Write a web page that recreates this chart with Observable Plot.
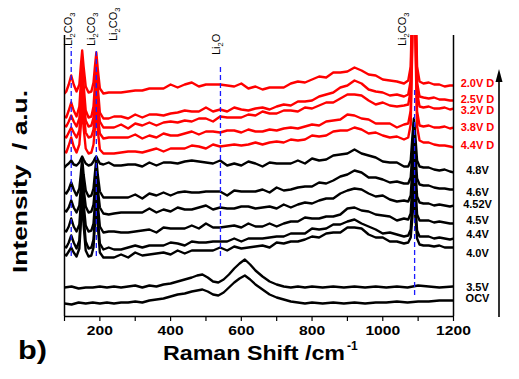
<!DOCTYPE html>
<html><head><meta charset="utf-8">
<script src="https://cdn.jsdelivr.net/npm/d3@7"></script>
<script src="https://cdn.jsdelivr.net/npm/@observablehq/plot@0.6"></script>
<style>
body{margin:0;background:#fff}
svg{font-family:"Liberation Sans",Arial,sans-serif}
</style>
</head><body><div id="chart"></div>
<script>
// Raman shift grid (cm-1) for the charged / discharged spectra
const shift = [100,105,112,119,126,134,142,146,150,154,160,168,176,182,186,190,194,200,210,
 225,240,260,280,300,320,340,360,380,400,420,440,460,480,500,520,540,560,580,600,620,640,660,680,700,720,740,760,780,800,820,840,860,880,900,920,940,960,980,1000,1020,1040,1060,
 1072,1079,1084,1088,1092,1097,1104,1115,1130,1145,1160,1175,1190,1200];
// grid for the OCV and 3.5V spectra
const shiftLow = [100,120,140,160,180,200,220,240,260,280,300,320,340,360,380,400,420,440,460,
 475,490,505,520,535,550,565,580,595,610,625,640,
 660,680,700,720,740,760,780,800,
 830,860,890,920,950,980,1010,1040,1070,1100,1130,1160,1200];

// stacked intensities (a.u.)
const s20D = [223,225,232,241,232,225,232,250,266,250,230,224,225,234,250,264,248,228,223,
 224,224,224,225,226,226,228,228,228,232,229,232,234,230,232,232,232,231,230,233,228,230,227,229,229,229,233,235,234,237,240,239,244,244,245,249,246,242,241,237,236,235,233,
 236,250,330,450,330,250,235,233,234,232,232,230,231,231];
const s25D = [200,199,206,214,206,200,210,232,256,232,206,199,200,210,232,254,230,204,198,
 198,200,200,198,202,199,202,202,201,203,204,206,205,205,209,205,207,205,209,207,206,208,209,207,210,212,211,215,215,216,220,222,224,229,231,236,233,227,225,224,221,222,220,
 222,236,320,440,320,234,220,219,218,219,217,217,216,216];
const s32D = [191,190,195,201,195,190,198,218,241,218,196,190,191,199,218,238,216,195,189,
 189,189,192,188,193,191,194,191,194,195,194,196,195,198,198,195,200,199,199,199,202,201,205,203,203,206,206,205,209,208,211,214,214,218,222,222,221,216,212,214,211,210,211,
 212,226,310,430,310,224,210,209,210,208,208,209,207,208];
const s38D = [180,179,184,189,184,179,186,204,226,204,184,179,180,187,203,221,202,183,178,
 179,179,179,179,182,178,181,179,183,181,181,183,185,182,185,185,184,186,186,184,187,185,185,187,186,188,189,188,190,192,191,195,196,197,202,201,198,197,193,193,193,189,192,
 193,206,290,410,290,205,191,190,191,189,189,190,188,189];
const s44D = [165,164,171,179,170,164,172,190,211,189,168,163,164,172,188,206,187,167,163,
 163,163,164,165,165,164,166,168,165,168,168,168,171,170,168,172,170,171,172,171,172,174,172,174,175,174,177,176,177,181,180,181,185,186,186,189,187,183,184,181,179,180,177,
 179,192,280,400,280,190,176,174,174,172,171,171,170,169];
const s48 = [149,151,153,156,152,151,154,157,160,157,153,151,152,155,158,160,157,153,152,
 154,151,151,152,152,150,154,151,154,154,153,155,156,155,154,153,156,151,153,151,155,153,150,154,153,153,153,156,153,158,156,157,161,162,163,167,163,161,159,155,154,154,150,
 150,156,181,198,181,156,150,149,149,147,146,147,145,144];
const s46 = [124,123,127,134,127,121,128,142,158,142,126,120,121,128,143,158,142,125,119,
 119,119,119,119,122,118,123,121,124,121,124,125,124,124,125,125,125,121,126,125,125,125,127,124,129,126,127,129,130,130,134,133,136,140,142,146,144,139,139,137,134,135,133,
 133,139,165,194,165,138,132,131,131,129,128,128,127,127];
const s452 = [106,105,109,116,109,104,111,128,150,128,110,104,105,112,128,150,128,109,103,
 102,103,104,104,104,104,108,104,107,105,109,107,107,109,111,107,109,108,108,110,110,108,109,110,108,112,109,112,114,113,116,118,118,123,126,128,127,123,120,121,117,115,116,
 115,121,150,188,150,120,114,113,113,111,112,111,110,111];
const s45 = [86,85,90,98,90,85,92,113,140,113,91,85,86,93,113,140,113,90,84,
 85,85,84,84,85,86,87,84,89,88,88,88,91,88,93,89,89,90,91,89,93,90,90,93,90,93,95,95,99,98,98,100,100,102,108,109,106,105,102,101,100,96,98,
 97,103,135,180,135,102,96,96,96,94,95,94,93,93];
const s44 = [70,69,74,81,74,68,76,100,130,100,75,68,69,77,100,130,100,73,67,
 69,67,67,69,71,69,71,71,71,74,73,71,75,74,74,75,75,75,78,75,78,78,78,79,80,80,83,83,83,88,87,88,92,92,95,97,93,90,87,83,84,82,80,
 81,87,115,165,115,86,80,80,80,78,79,78,77,78];
const s40 = [62,61,65,69,64,60,68,92,122,92,66,60,61,69,92,122,92,64,59,
 59,59,62,59,64,61,62,63,64,62,66,63,66,66,66,66,69,66,70,68,69,70,71,69,74,73,75,75,77,80,79,83,84,84,89,89,88,82,79,79,75,75,73,
 74,79,100,130,100,78,72,71,71,70,71,69,69,69];
const s35 = [29,30,28,29,29,30,29,30,29,30,31,29,31,30,32,33,35,37,39,
 41,42,39,35,34,37,42,48,53,57,52,46,
 40,35,32,30,29,30,29,30,
 29,30,29,30,29,30,29,30,29,31,30,29,30];
const sOCV = [13,12,14,13,14,13,14,13,14,14,15,14,16,17,18,20,22,23,25,
 26,27,25,22,21,24,29,34,38,41,37,32,
 27,22,19,17,15,14,13,14,
 13,14,13,14,13,14,14,15,14,15,15,16,16];

const redNames = ["2.0V D","2.5V D","3.2V D","3.8V D","4.4V D"];
const redSeries = [s20D,s25D,s32D,s38D,s44D];
const blackNames = ["4.8V","4.6V","4.52V","4.5V","4.4V","4.0V"];
const blackSeries = [s48,s46,s452,s45,s44,s40];
const lowNames = ["3.5V","OCV"];
const lowSeries = [s35,sOCV];

// label level of each curve name at the right side (a.u.)
const redLabelLevel = [233,217,206,189,171];
const blackLabelLevel = [146,124,112,96,82,63,29,18];
const blackLabelNames = [...blackNames, ...lowNames];

// reference band positions (cm-1) and their extent (a.u.)
const bandShift = [119,190,541,1090];
const bandFrom = [60,60,60,21];
const bandTo = [269,266,249,226];
// band labels
const bandLabelShift = [123,188,250,541,1066];
const bandLabelLevel = [270,270,275,261,270];
const bandLabelText = ["Li2CO3","Li2CO3","Li2CO3","Li2O","Li2CO3"];

const xTicks = [100,200,300,400,500,600,700,800,900,1000,1100,1200];

const rows = (names, series, grid) => names.flatMap((n,i) => grid.map((x,j) => ({name:n, x, y:series[i][j]})));
const redRows = rows(redNames, redSeries, shift);
const blackRows = rows(blackNames, blackSeries, shift);
const lowRows = rows(lowNames, lowSeries, shiftLow);
const bands = bandShift.map((x,i) => ({x, y1:bandFrom[i], y2:bandTo[i]}));
const redLabels = redNames.map((n,i) => ({name:n, level:redLabelLevel[i]}));
const blackLabels = blackLabelNames.map((n,i) => ({name:n, level:blackLabelLevel[i]}));

const chart = Plot.plot({
  width: 519, height: 379,
  marginTop: 35, marginRight: 66, marginBottom: 63, marginLeft: 64,
  style: {background: "#fff", fontFamily: "'Liberation Sans', Arial, sans-serif"},
  x: {domain: [100, 1200]},
  y: {domain: [0, 281], axis: null},
  marks: [
    Plot.axisX({ticks: xTicks, tickFormat: d => d % 200 === 0 ? String(d) : "", tickSize: 5, tickPadding: 4, fontSize: 13, label: null, stroke: "#000", strokeWidth: 1.2}),
    Plot.line(redRows, {x: "x", y: "y", z: "name", stroke: "#ff0000", strokeWidth: 2.4, clip: true}),
    Plot.line(blackRows, {x: "x", y: "y", z: "name", stroke: "#000", strokeWidth: 2.4, clip: true}),
    Plot.line(lowRows, {x: "x", y: "y", z: "name", stroke: "#000", strokeWidth: 2.4, clip: true}),
    Plot.ruleX(bands, {x: "x", y1: "y1", y2: "y2", stroke: "#1a1aff", strokeWidth: 1.3, strokeDasharray: "5,3"}),
    Plot.ruleY([0], {stroke: "#000", strokeWidth: 1.5}),
    Plot.ruleX([100, 1200], {stroke: "#000", strokeWidth: 1.5}),
    Plot.text(redLabels, {x: () => 1200, y: "level", text: "name", dx: 24, fill: "#ff0000", fontWeight: "bold", fontSize: 11, textAnchor: "middle"}),
    Plot.text(blackLabels, {x: () => 1200, y: "level", text: "name", dx: 24, fill: "#000", fontWeight: "bold", fontSize: 11, textAnchor: "middle"})
  ]
});
document.getElementById("chart").appendChild(chart);

const svg = d3.select(chart);
const sx = chart.scale("x"), sy = chart.scale("y");

// bold, stretched tick labels
svg.selectAll('g[aria-label="x-axis tick label"] text').each(function(){
  const t = this.textContent;
  const s = d3.select(this).attr("font-weight", "bold");
  if (t) s.attr("textLength", t.length * 8.7).attr("lengthAdjust", "spacingAndGlyphs");
});

// band labels with subscripts
bandLabelText.forEach((lab, i) => {
  const g = svg.append("text")
    .attr("transform", `translate(${sx.apply(bandLabelShift[i])},${sy.apply(bandLabelLevel[i])}) rotate(-90)`)
    .attr("text-anchor", "start").attr("dy", "0.35em").attr("font-size", 11).attr("fill", "#000");
  const parts = lab.match(/[A-Za-z]+|\d/g);
  let sub = false;
  parts.forEach(p => {
    if (/\d/.test(p)) {
      g.append("tspan").attr("font-size", 7.5).attr("dy", 3).text(p); sub = true;
    } else {
      g.append("tspan").attr("dy", sub ? -3 : 0).text(p); sub = false;
    }
  });
});

// arrow on the right
const ax = sx.apply(1200) + 46;
const yTip = sy.apply(247), yBase = sy.apply(-1);
svg.append("line").attr("x1", ax).attr("x2", ax).attr("y1", yBase).attr("y2", yTip + 8)
  .attr("stroke", "#000").attr("stroke-width", 1.6);
svg.append("path").attr("d", `M${ax},${yTip} L${ax-3.5},${yTip+13} L${ax+3.5},${yTip+13} Z`).attr("fill", "#000");

// axis titles
svg.append("text").attr("transform", "translate(27,181.5) rotate(-90)")
  .attr("text-anchor", "middle").attr("font-size", 20).attr("font-weight", "bold")
  .attr("textLength", 183).attr("lengthAdjust", "spacingAndGlyphs").style("white-space", "pre")
  .text("Intensity  / a.u.");
svg.append("text").attr("x", 163).attr("y", 360).attr("text-anchor", "start").attr("font-size", 21).attr("font-weight", "bold")
  .attr("textLength", 182).attr("lengthAdjust", "spacingAndGlyphs").text("Raman Shift /cm");
svg.append("text").attr("x", 347).attr("y", 350).attr("text-anchor", "start").attr("font-size", 12).attr("font-weight", "bold").text("-1");
svg.append("text").attr("x", 18).attr("y", 359).attr("text-anchor", "start").attr("font-size", 26).attr("font-weight", "bold")
  .attr("textLength", 29).attr("lengthAdjust", "spacingAndGlyphs").text("b)");
</script>
</body></html>
